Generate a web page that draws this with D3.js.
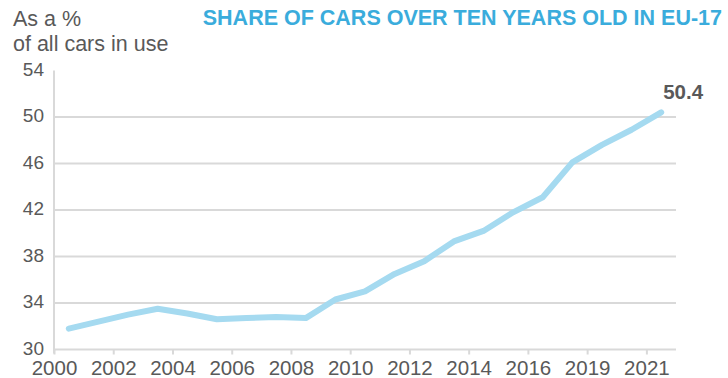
<!DOCTYPE html>
<html>
<head>
<meta charset="utf-8">
<script src="https://cdn.jsdelivr.net/npm/d3@7/dist/d3.min.js"></script>
<style>
  html, body { margin: 0; padding: 0; background: #fff; }
  svg { display: block; font-family: "Liberation Sans", Arial, sans-serif; }
</style>
</head>
<body>
<svg id="chart" width="728" height="378"></svg>
<script>
// Share of cars over ten years old, EU-17, % of all cars in use
const years = [2000, 2001, 2002, 2003, 2004, 2005, 2006, 2007, 2008, 2009, 2010,
               2011, 2012, 2013, 2014, 2015, 2016, 2017, 2018, 2019, 2020];
const shares = [31.8, 32.4, 33.0, 33.5, 33.1, 32.6, 32.7, 32.8, 32.7, 34.3, 35.0,
                36.5, 37.6, 39.3, 40.2, 41.8, 43.1, 46.1, 47.6, 48.9, 50.4];
const xTickLabels = ["2000", "2002", "2004", "2006", "2008", "2010", "2012",
                     "2014", "2016", "2019", "2021"];
const yTicks = [30, 34, 38, 42, 46, 50, 54];

const svg = d3.select("#chart");
const plotLeft = 54, plotRight = 676, plotTop = 70.5, plotBottom = 349.5;
const grey = "#595959", gridCol = "#d9d9d9";
const fontFam = "Liberation Sans, Arial, sans-serif";

// Category axis: each year occupies one slot, points sit at slot centres
const x = d3.scaleLinear().domain([0, years.length]).range([plotLeft, plotRight]);
const y = d3.scaleLinear().domain([30, 54]).range([plotBottom, plotTop]);

// Horizontal gridlines (no line at the top value)
svg.append("g")
  .selectAll("line")
  .data(yTicks.filter(v => v > 30 && v < 54))
  .join("line")
  .attr("x1", plotLeft).attr("x2", plotRight)
  .attr("y1", d => y(d)).attr("y2", d => y(d))
  .attr("stroke", gridCol).attr("stroke-width", 2);

// Y axis
const yAxis = svg.append("g")
  .attr("transform", `translate(${plotLeft},0)`)
  .call(d3.axisLeft(y).tickValues(yTicks).tickSize(0).tickPadding(10));
yAxis.select(".domain").remove();
yAxis.append("line")
  .attr("x1", 0).attr("x2", 0).attr("y1", plotTop).attr("y2", plotBottom + 4)
  .attr("stroke", gridCol).attr("stroke-width", 2);
yAxis.selectAll(".tick text")
  .attr("fill", grey).attr("font-size", 19)
  .attr("font-family", fontFam)
  .attr("dy", "0.25em");

// X axis: tick marks on every second slot boundary
const tickIdx = xTickLabels.map((_, i) => i * 2);
const xAxis = svg.append("g")
  .attr("transform", `translate(0,${plotBottom})`)
  .call(d3.axisBottom(x).tickValues(tickIdx)
    .tickFormat((d, i) => xTickLabels[i]).tickSize(5).tickSizeOuter(0).tickPadding(5.5));
xAxis.select(".domain").remove();
xAxis.insert("line", ":first-child")
  .attr("x1", plotLeft).attr("x2", plotRight).attr("y1", 0).attr("y2", 0)
  .attr("stroke", gridCol).attr("stroke-width", 2);
xAxis.selectAll(".tick line").attr("stroke", gridCol).attr("stroke-width", 2);
xAxis.selectAll(".tick text")
  .attr("fill", grey).attr("font-size", 20.5)
  .attr("font-family", fontFam);

// Data line
const line = d3.line()
  .x((d, i) => x(i + 0.5))
  .y(d => y(d));
svg.append("path")
  .datum(shares)
  .attr("d", line)
  .attr("fill", "none")
  .attr("stroke", "#a5daf0")
  .attr("stroke-width", 6)
  .attr("stroke-linecap", "round")
  .attr("stroke-linejoin", "round");

// Last value label
const lastI = shares.length - 1;
svg.append("text")
  .attr("x", x(lastI + 0.5) + 2)
  .attr("y", y(shares[lastI]) - 13)
  .attr("font-size", 20.5).attr("font-weight", "bold").attr("fill", grey)
  .text(shares[lastI].toFixed(1));

// Unit label
svg.append("text")
  .attr("x", 13).attr("y", 25.5)
  .attr("font-size", 21.5).attr("fill", grey)
  .text("As a %");
svg.append("text")
  .attr("x", 13).attr("y", 50.5)
  .attr("font-size", 21.5).attr("fill", grey)
  .text("of all cars in use");

// Title
svg.append("text")
  .attr("x", 722).attr("y", 25)
  .attr("text-anchor", "end")
  .attr("font-size", 21.5).attr("font-weight", "bold").attr("fill", "#3aacdc")
  .text("SHARE OF CARS OVER TEN YEARS OLD IN EU-17");
</script>
</body>
</html>
